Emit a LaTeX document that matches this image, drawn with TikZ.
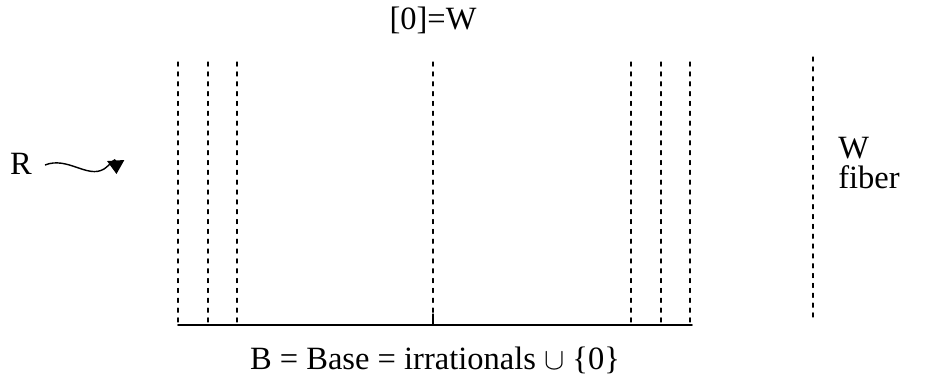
\documentclass[tikz,border=0pt]{standalone}
\usepackage{fontspec}
\setmainfont{Liberation Serif}
\usepackage{tkz-euclide}
\usetikzlibrary{arrows.meta}
\tikzset{
  fiberline/.style={line width=0.6pt,dash pattern=on 2.4pt off 3.2pt},
  lbl/.style={inner sep=0pt,font=\fontsize{18.5}{17}\selectfont}
}

\begin{document}
\begin{tikzpicture}
\useasboundingbox (0,0) rectangle (18.64,7.58);

\tkzDefPoints{3.56/6.34/a,3.56/1.14/a',4.16/6.34/b,4.16/1.14/b',4.74/6.34/c,4.74/1.14/c'}
\tkzDefPoints{8.66/6.34/o,8.66/1.08/o',12.62/6.34/d,12.62/1.14/d'}
\tkzDefPoints{13.22/6.34/e,13.22/1.14/e',13.80/6.34/f,13.80/1.14/f'}
\tkzDefPoints{3.56/1.08/L,13.84/1.08/M,8.66/1.30/T}
\tkzDefPoints{16.26/6.44/w,16.26/1.22/w'}

% fibers over the base
\tkzDrawSegments[fiberline](a,a' b,b' c,c' o,o' d,d' e,e' f,f' w,w')
\tkzDrawSegments[line width=0.9pt](L,M)
\tkzDrawSegments[line width=0.7pt](o',T)

\node[lbl] (zero) at (8.66,7.18) {[0]=W};
\node[lbl] (base) at (8.70,0.38) {B = Base = irrationals $\cup$ \{0\}};
\node[lbl,anchor=west,align=left] (fib) at (16.76,4.32) {W\\fiber};

\node[lbl] (R) at (0.42,4.30) {R};
\coordinate (rs) at (0.90,4.28);
\coordinate (re) at (2.33,4.10);
\draw[line width=0.8pt,-{Triangle[length=0.27cm,width=0.34cm]}]
  (rs) .. controls (1.35,4.46) and (1.75,4.00) .. (2.08,4.20)
       .. controls (2.20,4.28) and (2.31,4.44) .. (re);

\end{tikzpicture}
\end{document}
